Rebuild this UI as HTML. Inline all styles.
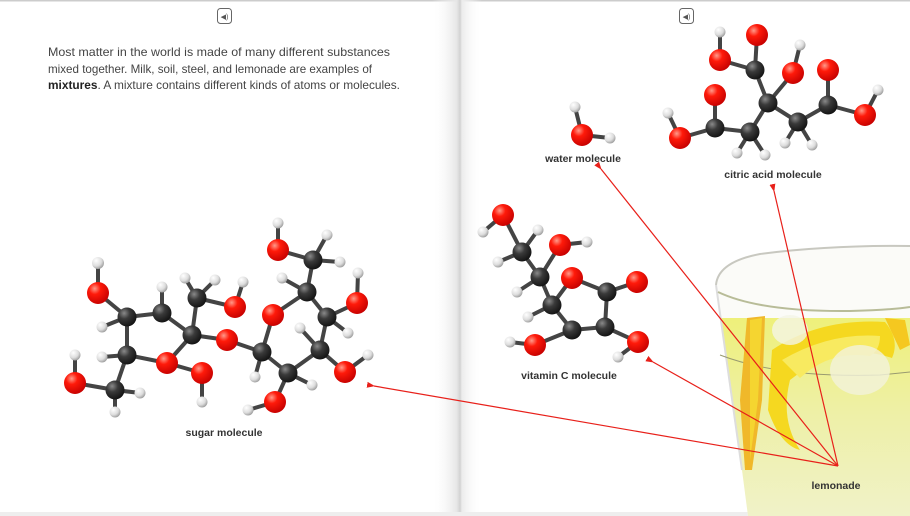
<!DOCTYPE html>
<html><head><meta charset="utf-8"><style>
html,body{margin:0;padding:0;background:#fff}
body{width:910px;height:516px;overflow:hidden;position:relative;font-family:"Liberation Sans",sans-serif}
svg{position:absolute;left:0;top:0}
.lbl{font-family:"Liberation Sans",sans-serif;font-size:10.5px;font-weight:bold;fill:#333}
.para{font-family:"Liberation Sans",sans-serif;font-size:12px;fill:#444}
</style></head><body>
<svg width="910" height="516" viewBox="0 0 910 516">
<defs>
<radialGradient id="gO" cx="0.35" cy="0.3" r="0.75"><stop offset="0" stop-color="#ff9a8a"/><stop offset="0.35" stop-color="#ff1a0a"/><stop offset="1" stop-color="#c40000"/></radialGradient>
<radialGradient id="gC" cx="0.35" cy="0.3" r="0.75"><stop offset="0" stop-color="#8a8a8a"/><stop offset="0.4" stop-color="#3a3a3a"/><stop offset="1" stop-color="#111"/></radialGradient>
<radialGradient id="gH" cx="0.35" cy="0.3" r="0.75"><stop offset="0" stop-color="#fff"/><stop offset="0.6" stop-color="#ddd"/><stop offset="1" stop-color="#999"/></radialGradient>
<linearGradient id="gut" x1="0" x2="1"><stop offset="0" stop-color="#fff" stop-opacity="0"/><stop offset="0.5" stop-color="#e6e6e6"/><stop offset="0.56" stop-color="#d2d2d2"/><stop offset="0.6" stop-color="#ececec"/><stop offset="1" stop-color="#fff" stop-opacity="0"/></linearGradient>
<linearGradient id="liq" x1="0" y1="0" x2="0" y2="1"><stop offset="0" stop-color="#eef07a"/><stop offset="0.5" stop-color="#eef0a8"/><stop offset="1" stop-color="#f0f2c8"/></linearGradient>
<marker id="ar" markerWidth="8" markerHeight="6" refX="1" refY="3" orient="auto-start-reverse" markerUnits="userSpaceOnUse"><path d="M0,3 L8,0 L8,6z" fill="#e8201a"/></marker>
</defs>
<rect x="0" y="0" width="910" height="1.5" fill="#ccc"/>
<rect x="432" y="0" width="50" height="516" fill="url(#gut)"/>
<rect x="0" y="512" width="910" height="4" fill="#eee"/>
<!-- speaker icons -->
<rect x="217.5" y="8.5" width="14" height="15" rx="3" fill="#fff" stroke="#666"/>
<text x="224.5" y="19" font-size="7" text-anchor="middle" fill="#555">◀)</text>
<rect x="679.5" y="8.5" width="14" height="15" rx="3" fill="#fff" stroke="#666"/>
<text x="686.5" y="19" font-size="7" text-anchor="middle" fill="#555">◀)</text>

<!-- paragraph -->
<text class="para" x="48" y="56" textLength="342" lengthAdjust="spacingAndGlyphs">Most matter in the world is made of many different substances</text>
<text class="para" x="48" y="73" textLength="324" lengthAdjust="spacingAndGlyphs">mixed together. Milk, soil, steel, and lemonade are examples of</text>
<text class="para" x="48" y="89" textLength="352" lengthAdjust="spacingAndGlyphs"><tspan font-weight="bold" fill="#222">mixtures</tspan>. A mixture contains different kinds of atoms or molecules.</text>

<!-- glass -->
<path d="M716,285 Q718,262 760,254 Q830,245 910,246 L910,516 L748,516 L742,470 Z" fill="#fbfbf8"/>
<path d="M720,318 L910,318 L910,516 L748,516 L742,470 Z" fill="url(#liq)"/>
<path d="M716,285 Q718,262 760,254 Q830,245 910,246" fill="none" stroke="#c8c8c0" stroke-width="2"/>
<path d="M716,285 L742,470" fill="none" stroke="#ddd" stroke-width="2"/>
<path d="M718,292 Q760,312 850,311 Q890,310 910,307" fill="none" stroke="#b8bc98" stroke-width="2"/>
<path d="M720,355 Q780,378 880,375 L910,372" fill="none" stroke="#999a70" stroke-width="1"/>
<path d="M747,318 L765,316 L762,400 L752,470 L745,470 L740,400 Z" fill="#f0b82a"/>
<path d="M750,320 L762,318 L758,400 L750,460 Z" fill="#f5d530"/>
<path d="M772,350 Q820,318 885,322 Q900,340 892,358 Q840,340 790,380 Q780,420 800,450 Q780,445 768,410 Z" fill="#f5d820"/>
<path d="M782,360 Q830,332 880,336 Q880,350 870,356 Q830,350 800,378 Z" fill="#f8ea60"/>
<path d="M885,318 L905,320 L910,345 L900,350 Z" fill="#f5c820"/>
<ellipse cx="860" cy="370" rx="30" ry="25" fill="#f2f3dc" opacity="0.8"/>
<ellipse cx="790" cy="330" rx="18" ry="15" fill="#f4f5e6" opacity="0.8"/>

<!-- bonds -->
<g stroke="#444" stroke-width="4" stroke-linecap="round">
<line x1="98" y1="263" x2="98" y2="293"/><line x1="98" y1="293" x2="127" y2="317"/>
<line x1="127" y1="317" x2="102" y2="327"/><line x1="127" y1="317" x2="162" y2="313"/>
<line x1="162" y1="313" x2="162" y2="287"/><line x1="127" y1="317" x2="127" y2="355"/>
<line x1="127" y1="355" x2="102" y2="357"/><line x1="162" y1="313" x2="192" y2="335"/>
<line x1="192" y1="335" x2="197" y2="298"/><line x1="197" y1="298" x2="185" y2="278"/>
<line x1="197" y1="298" x2="215" y2="280"/><line x1="197" y1="298" x2="235" y2="307"/>
<line x1="235" y1="307" x2="243" y2="282"/><line x1="192" y1="335" x2="167" y2="363"/>
<line x1="127" y1="355" x2="167" y2="363"/><line x1="167" y1="363" x2="202" y2="373"/>
<line x1="202" y1="373" x2="202" y2="402"/><line x1="127" y1="355" x2="115" y2="390"/>
<line x1="115" y1="390" x2="140" y2="393"/><line x1="115" y1="390" x2="115" y2="412"/>
<line x1="115" y1="390" x2="75" y2="383"/><line x1="75" y1="383" x2="75" y2="355"/>
<line x1="192" y1="335" x2="227" y2="340"/><line x1="227" y1="340" x2="262" y2="352"/>
<line x1="262" y1="352" x2="255" y2="377"/><line x1="262" y1="352" x2="288" y2="373"/>
<line x1="288" y1="373" x2="312" y2="385"/><line x1="288" y1="373" x2="275" y2="402"/>
<line x1="275" y1="402" x2="248" y2="410"/><line x1="288" y1="373" x2="320" y2="350"/>
<line x1="320" y1="350" x2="300" y2="328"/><line x1="320" y1="350" x2="345" y2="372"/>
<line x1="345" y1="372" x2="368" y2="355"/><line x1="320" y1="350" x2="327" y2="317"/>
<line x1="327" y1="317" x2="348" y2="333"/><line x1="327" y1="317" x2="357" y2="303"/>
<line x1="357" y1="303" x2="358" y2="273"/><line x1="327" y1="317" x2="307" y2="292"/>
<line x1="307" y1="292" x2="282" y2="278"/><line x1="307" y1="292" x2="273" y2="315"/>
<line x1="273" y1="315" x2="262" y2="352"/><line x1="307" y1="292" x2="313" y2="260"/>
<line x1="313" y1="260" x2="340" y2="262"/><line x1="313" y1="260" x2="327" y2="235"/>
<line x1="313" y1="260" x2="278" y2="250"/><line x1="278" y1="250" x2="278" y2="223"/>
<line x1="575" y1="107" x2="582" y2="135"/><line x1="582" y1="135" x2="610" y2="138"/>
<line x1="720" y1="32" x2="720" y2="60"/><line x1="720" y1="60" x2="755" y2="70"/>
<line x1="755" y1="70" x2="757" y2="35"/><line x1="755" y1="70" x2="768" y2="103"/>
<line x1="800" y1="45" x2="793" y2="73"/><line x1="793" y1="73" x2="768" y2="103"/>
<line x1="768" y1="103" x2="798" y2="122"/><line x1="798" y1="122" x2="785" y2="143"/>
<line x1="798" y1="122" x2="812" y2="145"/><line x1="798" y1="122" x2="828" y2="105"/>
<line x1="828" y1="105" x2="828" y2="70"/><line x1="828" y1="105" x2="865" y2="115"/>
<line x1="865" y1="115" x2="878" y2="90"/><line x1="768" y1="103" x2="750" y2="132"/>
<line x1="750" y1="132" x2="737" y2="153"/><line x1="750" y1="132" x2="765" y2="155"/>
<line x1="750" y1="132" x2="715" y2="128"/><line x1="715" y1="128" x2="715" y2="95"/>
<line x1="715" y1="128" x2="680" y2="138"/><line x1="680" y1="138" x2="668" y2="113"/>
<line x1="503" y1="215" x2="483" y2="232"/><line x1="503" y1="215" x2="522" y2="252"/>
<line x1="522" y1="252" x2="538" y2="230"/><line x1="522" y1="252" x2="498" y2="262"/>
<line x1="522" y1="252" x2="540" y2="277"/><line x1="540" y1="277" x2="560" y2="245"/>
<line x1="560" y1="245" x2="587" y2="242"/><line x1="540" y1="277" x2="517" y2="292"/>
<line x1="540" y1="277" x2="552" y2="305"/><line x1="552" y1="305" x2="572" y2="278"/>
<line x1="572" y1="278" x2="607" y2="292"/><line x1="607" y1="292" x2="637" y2="282"/>
<line x1="607" y1="292" x2="605" y2="327"/><line x1="552" y1="305" x2="528" y2="317"/>
<line x1="552" y1="305" x2="572" y2="330"/><line x1="572" y1="330" x2="605" y2="327"/>
<line x1="572" y1="330" x2="535" y2="345"/><line x1="535" y1="345" x2="510" y2="342"/>
<line x1="605" y1="327" x2="638" y2="342"/><line x1="638" y1="342" x2="618" y2="357"/>
</g>

<g fill="url(#gH)">
<circle cx="98" cy="263" r="6"/><circle cx="102" cy="327" r="5.5"/><circle cx="162" cy="287" r="5.5"/>
<circle cx="102" cy="357" r="5.5"/><circle cx="185" cy="278" r="5.5"/><circle cx="215" cy="280" r="5.5"/>
<circle cx="243" cy="282" r="5.5"/><circle cx="202" cy="402" r="5.5"/><circle cx="140" cy="393" r="5.5"/>
<circle cx="115" cy="412" r="5.5"/><circle cx="75" cy="355" r="5.5"/><circle cx="255" cy="377" r="5.5"/>
<circle cx="312" cy="385" r="5.5"/><circle cx="248" cy="410" r="5.5"/><circle cx="300" cy="328" r="5.5"/>
<circle cx="368" cy="355" r="5.5"/><circle cx="348" cy="333" r="5.5"/><circle cx="358" cy="273" r="5.5"/>
<circle cx="282" cy="278" r="5.5"/><circle cx="340" cy="262" r="5.5"/><circle cx="327" cy="235" r="5.5"/>
<circle cx="278" cy="223" r="5.5"/>
<circle cx="575" cy="107" r="5.5"/><circle cx="610" cy="138" r="5.5"/>
<circle cx="720" cy="32" r="5.5"/><circle cx="800" cy="45" r="5.5"/><circle cx="785" cy="143" r="5.5"/>
<circle cx="812" cy="145" r="5.5"/><circle cx="878" cy="90" r="5.5"/><circle cx="737" cy="153" r="5.5"/>
<circle cx="765" cy="155" r="5.5"/><circle cx="668" cy="113" r="5.5"/>
<circle cx="483" cy="232" r="5.5"/><circle cx="538" cy="230" r="5.5"/><circle cx="498" cy="262" r="5.5"/>
<circle cx="587" cy="242" r="5.5"/><circle cx="517" cy="292" r="5.5"/><circle cx="528" cy="317" r="5.5"/>
<circle cx="510" cy="342" r="5.5"/><circle cx="618" cy="357" r="5.5"/>
</g>
<g fill="url(#gC)">
<circle cx="127" cy="317" r="9.5"/><circle cx="162" cy="313" r="9.5"/><circle cx="127" cy="355" r="9.5"/>
<circle cx="192" cy="335" r="9.5"/><circle cx="197" cy="298" r="9.5"/><circle cx="115" cy="390" r="9.5"/>
<circle cx="262" cy="352" r="9.5"/><circle cx="288" cy="373" r="9.5"/><circle cx="320" cy="350" r="9.5"/>
<circle cx="327" cy="317" r="9.5"/><circle cx="307" cy="292" r="9.5"/><circle cx="313" cy="260" r="9.5"/>
<circle cx="755" cy="70" r="9.5"/><circle cx="768" cy="103" r="9.5"/><circle cx="798" cy="122" r="9.5"/>
<circle cx="828" cy="105" r="9.5"/><circle cx="750" cy="132" r="9.5"/><circle cx="715" cy="128" r="9.5"/>
<circle cx="522" cy="252" r="9.5"/><circle cx="540" cy="277" r="9.5"/><circle cx="607" cy="292" r="9.5"/>
<circle cx="552" cy="305" r="9.5"/><circle cx="572" cy="330" r="9.5"/><circle cx="605" cy="327" r="9.5"/>
</g>
<g fill="url(#gO)">
<circle cx="98" cy="293" r="11"/><circle cx="235" cy="307" r="11"/><circle cx="167" cy="363" r="11"/>
<circle cx="202" cy="373" r="11"/><circle cx="75" cy="383" r="11"/><circle cx="227" cy="340" r="11"/>
<circle cx="275" cy="402" r="11"/><circle cx="345" cy="372" r="11"/><circle cx="357" cy="303" r="11"/>
<circle cx="273" cy="315" r="11"/><circle cx="278" cy="250" r="11"/>
<circle cx="582" cy="135" r="11"/>
<circle cx="720" cy="60" r="11"/><circle cx="757" cy="35" r="11"/><circle cx="793" cy="73" r="11"/>
<circle cx="828" cy="70" r="11"/><circle cx="865" cy="115" r="11"/><circle cx="715" cy="95" r="11"/>
<circle cx="680" cy="138" r="11"/>
<circle cx="503" cy="215" r="11"/><circle cx="560" cy="245" r="11"/><circle cx="572" cy="278" r="11"/>
<circle cx="637" cy="282" r="11"/><circle cx="535" cy="345" r="11"/><circle cx="638" cy="342" r="11"/>
</g>

<text class="lbl" x="583" y="162" text-anchor="middle">water molecule</text>
<text class="lbl" x="773" y="178" text-anchor="middle">citric acid molecule</text>
<text class="lbl" x="569" y="379" text-anchor="middle">vitamin C molecule</text>
<text class="lbl" x="224" y="436" text-anchor="middle">sugar molecule</text>
<text class="lbl" x="836" y="489" text-anchor="middle">lemonade</text>

<g stroke="#e8201a" stroke-width="1.2" fill="none">
<line x1="838" y1="466" x2="601" y2="169" marker-end="url(#ar)"/>
<line x1="838" y1="466" x2="774" y2="191" marker-end="url(#ar)"/>
<line x1="838" y1="466" x2="653" y2="362" marker-end="url(#ar)"/>
<line x1="838" y1="466" x2="374" y2="386" marker-end="url(#ar)"/>
</g>
</svg>
</body></html>
